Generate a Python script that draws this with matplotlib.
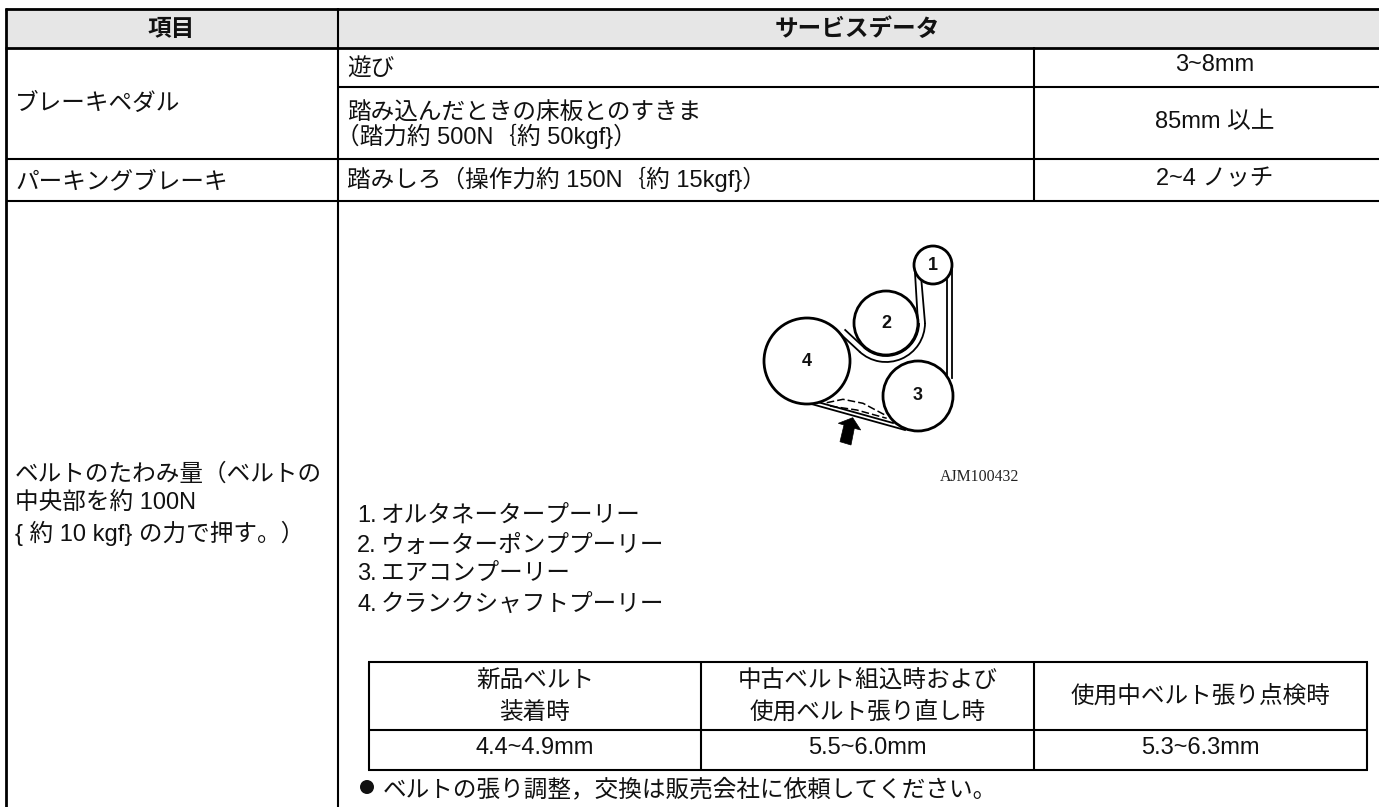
import matplotlib
matplotlib.use("Agg")
import matplotlib.pyplot as plt
from matplotlib.patches import Circle, Rectangle, Polygon, Arc

plt.rcParams['font.family'] = ['Liberation Sans', 'Noto Sans CJK JP', 'DejaVu Sans']

W, H = 1379, 807
headers = ["項目", "サービスデータ"]
brake_label = "ブレーキペダル"
parking_label = "パーキングブレーキ"
belt_label = ["ベルトのたわみ量（ベルトの", "中央部を約 100N", "{ 約 10 kgf} の力で押す。）"]
service_labels = ["遊び", "踏み込んだときの床板とのすきま", "（踏力約 500N｛約 50kgf}）", "踏みしろ（操作力約 150N｛約 15kgf}）"]
service_values = ["3~8mm", "85mm 以上", "2~4 ノッチ"]
pulley_nums = ["1.", "2.", "3.", "4."]
pulley_names = ["オルタネータープーリー", "ウォーターポンププーリー", "エアコンプーリー", "クランクシャフトプーリー"]
inner_heads = [["新品ベルト", "装着時"], ["中古ベルト組込時および", "使用ベルト張り直し時"], ["使用中ベルト張り点検時"]]
inner_values = ["4.4~4.9mm", "5.5~6.0mm", "5.3~6.3mm"]
note = "ベルトの張り調整，交換は販売会社に依頼してください。"
figure_code = "AJM100432"
pulleys = [("1", 933, 265, 19), ("2", 886, 323, 32), ("4", 807, 361, 43), ("3", 918, 396, 35)]

fig = plt.figure(figsize=(W/100, H/100), dpi=100)
ax = fig.add_axes([0, 0, 1, 1])
ax.set_xlim(0, W); ax.set_ylim(H, 0); ax.axis('off')

THICK, NORM = 2.0, 1.5
def hl(x0, x1, y, lw=NORM):
    ax.plot([x0, x1], [y, y], color='k', lw=lw, solid_capstyle='butt')
def vl(x, y0, y1, lw=NORM):
    ax.plot([x, x], [y0, y1], color='k', lw=lw, solid_capstyle='butt')

L, C1, C2, R = 5.7, 337.7, 1034, W
ax.add_patch(Rectangle((L, 8), R-L, 39.5, fc='#e6e6e6', ec='none'))
hl(L-1, R, 8.5, THICK); hl(L-1, R, 47.5, THICK)
hl(C1, R, 86.5); hl(L, R, 158.7); hl(L, R, 200.7)
vl(L, 7.5, H, THICK); vl(C1, 8, H); vl(C2, 47, 201)

fs = 17
def T(x, y, s, ha='left', **k):
    ax.text(x, y, s, ha=ha, va='baseline', fontsize=fs, color='#111111', **k)

T(171, 36, headers[0], ha='center', fontweight='bold')
T(857, 36, headers[1], ha='center', fontweight='bold')
T(15, 110, brake_label); T(15, 188, parking_label)
for y, s in zip([481, 509, 541], belt_label):
    T(15, y, s)
for x, y, s in zip([347, 347, 336, 347], [76, 120, 144, 187], service_labels):
    T(x, y, s)
for y, s in zip([71, 128, 185], service_values):
    T(1215, y, s, ha='center')
for y, n, s in zip([522, 552, 580, 611], pulley_nums, pulley_names):
    T(357, y, n); T(381, y, s)

# inner table
IL, I1, I2, IR = 369, 701, 1034, 1367
hl(IL-1, IR+1, 662); hl(IL, IR, 729.5); hl(IL-1, IR+1, 769.5)
for x in (IL, I1, I2, IR):
    vl(x, 662, 770)
for (a, b), h, v in zip([(IL, I1), (I1, I2), (I2, IR)], inner_heads, inner_values):
    ys = [688, 719] if len(h) == 2 else [703]
    for y, s in zip(ys, h):
        T((a+b)/2, y, s, ha='center')
    T((a+b)/2, 754, v, ha='center')
ax.add_patch(Circle((367, 787), 7, fc='#111111', ec='none'))
T(383, 796, note)

# belt diagram
strands = [[(915, 273), (918, 323)], [(921, 276), (925, 323)],
           [(952, 270), (952, 378)], [(947, 280), (947, 375)],
           [(841, 334.5), (859.4, 351.5)], [(845.2, 330), (863.5, 347)],
           [(806.7, 402.7), (905, 430)], [(820, 402.7), (893, 423)]]
dashed = [[(826.7, 402.7), (843, 399.3), (863, 403.3), (885, 415)],
          [(830, 406), (856.7, 410), (886.7, 418.3)]]
arrow = [(852.7, 417.7), (860.7, 430), (854.3, 428.3), (851, 445), (840, 441.7), (844, 425), (838.3, 423.3)]

for n, x, y, r in pulleys:
    ax.add_patch(Circle((x, y), r, fc='white', ec='k', lw=2.0, zorder=4))
    ax.text(x, y, n, ha='center', va='center', fontsize=13, fontweight='bold', color='#111111', zorder=5)
for s in strands:
    ax.plot([p[0] for p in s], [p[1] for p in s], color='k', lw=1.3, zorder=3)
for s in dashed:
    ax.plot([p[0] for p in s], [p[1] for p in s], color='k', lw=1.1, ls=(0, (5, 2)), zorder=3)
for d in (66, 78):
    ax.add_patch(Arc((886, 323), d, d, theta1=0, theta2=133, color='k', lw=1.3, zorder=3))
ax.add_patch(Polygon(arrow, fc='k', ec='k', lw=0.5, zorder=5))
ax.text(940, 481, figure_code, ha='left', va='baseline', fontsize=11.4, color='#222222', family='Liberation Serif')

fig.savefig("out.png", dpi=100)
